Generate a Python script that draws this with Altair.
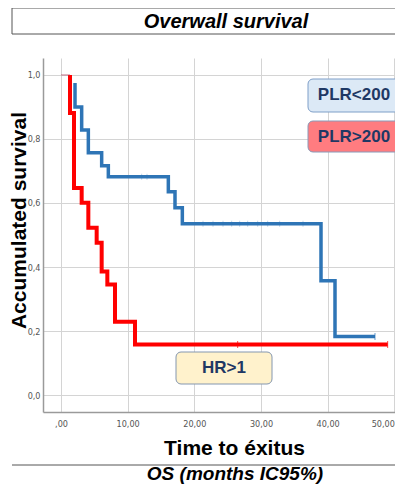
import altair as alt
import pandas as pd

# ---- data ----
blue_t = [2.1, 2.1, 3.1, 4.1, 6.1, 7.1, 16.1, 17.1, 18.2, 39.0, 41.1, 47.1]
blue_s = [0.975, 0.900, 0.828, 0.757, 0.716, 0.682, 0.635, 0.585, 0.535, 0.357, 0.183, 0.183]
red_t = [1.35, 1.35, 1.95, 3.1, 4.1, 5.35, 6.1, 6.95, 8.1, 11.1, 49.0]
red_s = [1.0, 0.881, 0.647, 0.601, 0.523, 0.476, 0.386, 0.345, 0.229, 0.158, 0.158]
red_lead_t = [0.0, 1.35]
red_lead_s = [1.0, 1.0]
blue_cens_t = [12.1, 12.9, 21.3, 22.8, 24.3, 25.6, 26.8, 28.0, 29.5, 31.0, 32.8, 36.3]
blue_cens_s = [0.682, 0.682, 0.535, 0.535, 0.535, 0.535, 0.535, 0.535, 0.535, 0.535, 0.535, 0.535]
end_cens_t = [47.1, 49.0, 26.5]
end_cens_s = [0.183, 0.158, 0.158]
end_cens_g = ["PLR<200", "PLR>200", "PLR>200"]
x_ticks = [0, 10, 20, 30, 40, 50]
y_ticks = [0.0, 0.2, 0.4, 0.6, 0.8, 1.0]

BLUE = "#2e75b6"
RED = "#ff0000"
NAVY = "#1f3864"

blue_df = pd.DataFrame({"t": blue_t, "s": blue_s, "i": range(len(blue_t))})
red_df = pd.DataFrame({"t": red_t, "s": red_s, "i": range(len(red_t))})
lead_df = pd.DataFrame({"t": red_lead_t, "s": red_lead_s})
bc_df = pd.DataFrame({"t": blue_cens_t, "s": blue_cens_s})
ec_df = pd.DataFrame({"t": end_cens_t, "s": end_cens_s, "g": end_cens_g})
one = pd.DataFrame({"a": [0]})

xsc = alt.Scale(domain=[-2.7, 50.1], nice=False, zero=False)
ysc = alt.Scale(domain=[-0.053, 1.053], nice=False, zero=False)

x_axis = alt.Axis(
    values=x_ticks,
    labelExpr="datum.value == 0 ? ',00' : replace(format(datum.value, '.2f'), '.', ',')",
    title="Time to éxitus", titleFontSize=21, titleFontWeight="bold",
    titleFont="Liberation Sans", titleColor="#000000",
    titleX=191, titleY=36, titleBaseline="middle", titleAnchor="middle",
    labelPadding=7, tickSize=0,
)
y_axis = alt.Axis(
    values=y_ticks,
    labelExpr="replace(format(datum.value, '.1f'), '.', ',')",
    title="Accumulated survival", titleFontSize=21, titleFontWeight="bold",
    titleFont="Liberation Sans", titleColor="#000000",
    titleX=-18, titleY=162, titleAngle=-90, titleBaseline="alphabetic", titleAnchor="middle",
    labelPadding=3, tickSize=0,
)

base_x = alt.X("t:Q", scale=xsc, axis=x_axis)
base_y = alt.Y("s:Q", scale=ysc, axis=y_axis)

blue_line = alt.Chart(blue_df).mark_line(
    interpolate="step-after", color=BLUE, strokeWidth=3.5
).encode(x=base_x, y=base_y, order="i:Q")

red_line = alt.Chart(red_df).mark_line(
    interpolate="step-after", color=RED, strokeWidth=4
).encode(x="t:Q", y="s:Q", order="i:Q")

lead = alt.Chart(lead_df).mark_line(color="#b04060", strokeWidth=1, opacity=0.7).encode(
    x="t:Q", y="s:Q")

bcens = alt.Chart(bc_df).mark_tick(orient="vertical", size=6, thickness=1,
                                   color=BLUE, opacity=0.3).encode(x="t:Q", y="s:Q")
ecens = alt.Chart(ec_df).mark_tick(orient="vertical", size=7, thickness=1).encode(
    x="t:Q", y="s:Q",
    color=alt.Color("g:N", scale=alt.Scale(domain=["PLR<200", "PLR>200"], range=[BLUE, RED]),
                    legend=None))

def box(x1, x2, y1, y2, fill, stroke, radius=5, sw=1):
    return alt.Chart(one).mark_rect(fill=fill, stroke=stroke, strokeWidth=sw,
                                    cornerRadius=radius).encode(
        x=alt.value(x1), x2=alt.value(x2), y=alt.value(y1), y2=alt.value(y2))

def label(txt, x, y, size, color=NAVY, style="normal", weight="bold"):
    return alt.Chart(one).mark_text(text=txt, font="Liberation Sans", fontSize=size,
                                    fontWeight=weight, fontStyle=style, color=color,
                                    align="center", baseline="middle").encode(
        x=alt.value(x), y=alt.value(y))

title_box = box(-31, 362, -50, -24, "#ffffff", "#555555", radius=0, sw=1)
title_txt = label("Overwall survival", 183, -36, 20, color="#000000", style="italic")
plr1_box = box(265, 362, 21, 54, "#dce9f6", "#7f9fc8")
plr1_txt = label("PLR<200", 311, 37, 17)
plr2_box = box(265, 362, 63, 94, "#ff7c80", "#8a9ab8")
plr2_txt = label("PLR>200", 311, 79, 17)
hr_box = box(133, 229, 294, 326, "#fff2cc", "#8497b0")
hr_txt = label("HR>1", 181, 310, 17)
sep_line = alt.Chart(one).mark_rule(color="#555555", strokeWidth=1).encode(
    x=alt.value(-31), x2=alt.value(362), y=alt.value(407))
os_txt = label("OS (months IC95%)", 192, 416, 19, color="#000000", style="italic")

chart = alt.layer(
    blue_line, red_line, lead, bcens, ecens,
    plr1_box, plr1_txt, plr2_box, plr2_txt, hr_box, hr_txt,
    title_box, title_txt, sep_line, os_txt,
).properties(
    width=352, height=354,
    autosize=alt.AutoSizeParams(type="none"),
    padding={"left": 35, "top": 50, "right": 0, "bottom": 72},
).configure_view(stroke=None).configure_axis(
    grid=True, gridColor="#d4d4d4", gridWidth=1,
    domainColor="#9a9a9a", domainWidth=1.5,
    labelFont="Liberation Sans Narrow, DejaVu Sans Condensed, sans-serif",
    labelFontSize=9, labelColor="#555555",
)

chart.save("out.html", embed_options={"renderer": "svg", "actions": False})
